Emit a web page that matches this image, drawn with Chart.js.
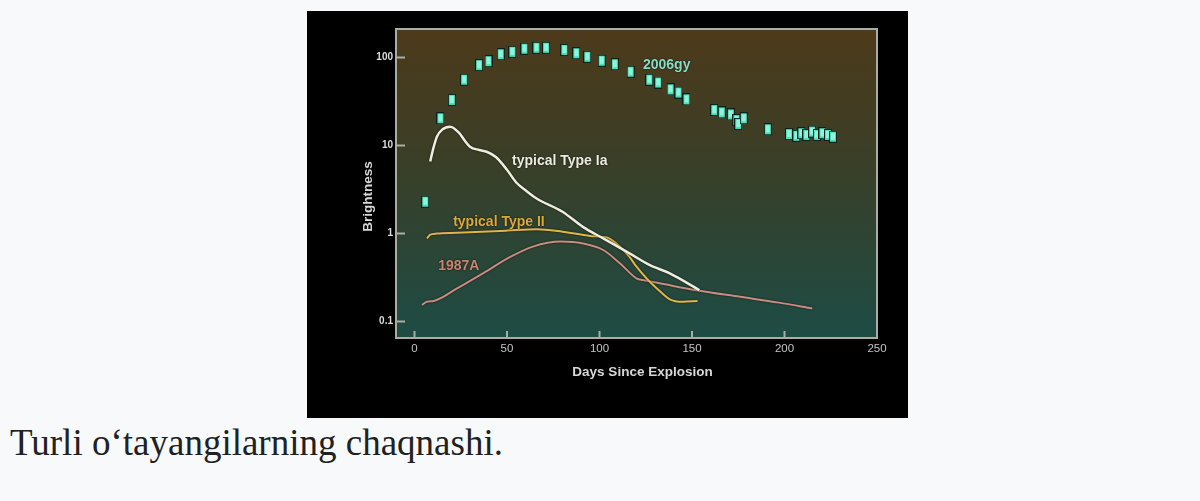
<!DOCTYPE html>
<html><head><meta charset="utf-8">
<script src="https://cdn.jsdelivr.net/npm/chart.js@4"></script>
<style>
html,body{margin:0;padding:0;background:#f8f9fa;width:1200px;height:501px;overflow:hidden;}
#frame{position:absolute;left:307px;top:11px;width:601px;height:407px;background:#000;}
#cv{display:block;}
#cap{position:absolute;left:10px;top:424px;font-family:"Liberation Serif","Times New Roman",serif;font-size:37px;line-height:1;color:#202122;white-space:nowrap;}
</style></head><body>
<div id="frame"><canvas id="cv" width="601" height="407"></canvas></div>
<div id="cap">Turli o‘tayangilarning chaqnashi.</div>
<script>
// ---- data (days since explosion, brightness) ----
const gyDays   = [5.8, 14.0, 20.2, 26.8, 34.9, 40.0, 46.6, 52.9, 59.4, 65.9, 71.1, 81.0, 87.5, 93.4, 101.2, 108.3, 116.8, 126.9, 131.7, 138.4, 142.7, 147.0, 162.0, 166.1, 171.0, 174.0, 175.0, 178.0, 191.0, 202.4, 206.4, 209.1, 211.8, 214.9, 217.5, 220.5, 223.5, 226.2];
const gyBright = [2.3, 20.4, 33, 56, 82, 91, 109, 116, 126, 129, 129, 122, 112, 102, 92, 84, 69, 56, 52, 43.5, 40, 33.5, 25.3, 23.8, 22.6, 19.5, 17.6, 20.4, 15.3, 13.5, 12.9, 13.8, 13.2, 14.4, 13.2, 13.8, 13.2, 12.6];

const iaDays   = [8.5, 10, 12.1, 15, 19.3, 24, 27, 30, 35, 39, 44, 50, 55, 60, 66, 80, 91, 102, 116, 127, 138, 154];
const iaBright = [6.6, 9.0, 12.6, 15.2, 16.4, 14, 11.5, 9.7, 8.9, 8.5, 7.4, 5.3, 3.8, 3.1, 2.5, 1.77, 1.19, 0.88, 0.6, 0.44, 0.353, 0.228];

const iiDays   = [6.7, 8.5, 12, 23, 50, 66, 80, 95, 104, 111, 116, 120, 126, 131, 138, 145, 153];
const iiBright = [0.88, 0.97, 1.0, 1.02, 1.08, 1.12, 1.05, 0.94, 0.9, 0.71, 0.55, 0.42, 0.3, 0.238, 0.179, 0.168, 0.171];

const snDays   = [4, 6.7, 10.3, 23, 37, 52, 64, 79, 91, 102, 111, 120, 123.4, 132.6, 154, 176, 197, 215];
const snBright = [0.154, 0.168, 0.171, 0.238, 0.353, 0.545, 0.71, 0.81, 0.77, 0.65, 0.46, 0.31, 0.296, 0.272, 0.224, 0.191, 0.164, 0.141];

const yTicks = [0.1, 1, 10, 100];
const xTicks = [0, 50, 100, 150, 200, 250];

const seriesLabels = ['2006gy', 'typical Type Ia', 'typical Type II', '1987A'];
const labelDays    = [123.5, 52.7, 20.9, 12.8];
const labelBright  = [82, 6.67, 1.35, 0.427];
const labelColors  = ['#86dcc6', '#ecebe2', '#dba83e', '#cc8470'];

const xTitle = 'Days Since Explosion';
const yTitle = 'Brightness';

// ---- helpers ----
const pts = (xs, ys) => xs.map((x, i) => ({x, y: ys[i]}));

function makeMarker(){
  const c = document.createElement('canvas'); c.width = 8; c.height = 12;
  const g = c.getContext('2d');
  g.fillStyle = '#0a241d'; g.fillRect(0,0,8,12);
  g.fillStyle = '#52dcbc'; g.fillRect(1,1,6,10);
  g.fillStyle = '#8ef4da'; g.fillRect(2,2,4,7);
  return c;
}

const decor = {
  id: 'decor',
  beforeDraw(chart){
    const {ctx, chartArea: a} = chart;
    const g = ctx.createLinearGradient(0, a.top, 0, a.bottom);
    g.addColorStop(0, '#4d3a1a');
    g.addColorStop(0.45, '#393f28');
    g.addColorStop(1, '#1d4c45');
    ctx.save();
    ctx.fillStyle = g;
    ctx.fillRect(a.left, a.top, a.right - a.left, a.bottom - a.top);
    ctx.restore();
  },
  beforeDatasetsDraw(chart){
    const {ctx, chartArea: a, scales} = chart;
    ctx.save();
    ctx.strokeStyle = '#a9ada4';
    ctx.lineWidth = 2;
    ctx.strokeRect(a.left, a.top, a.right - a.left, a.bottom - a.top);
    ctx.beginPath();
    yTicks.forEach(v => { const y = scales.y.getPixelForValue(v); ctx.moveTo(a.left, y); ctx.lineTo(a.left + 9, y); });
    xTicks.forEach(v => { const x = scales.x.getPixelForValue(v); ctx.moveTo(x, a.bottom); ctx.lineTo(x, a.bottom - 7); });
    ctx.stroke();
    ctx.restore();
  },
  beforeDatasetDraw(chart, args){
    const ctx = chart.ctx;
    ctx.save();
    if (args.index > 0) { ctx.shadowColor = 'rgba(0,0,0,0.75)'; ctx.shadowBlur = 2; }
  },
  afterDatasetDraw(chart){ chart.ctx.restore(); },
  afterDraw(chart){
    const {ctx, chartArea: a, scales} = chart;
    ctx.save();
    ctx.shadowColor = 'rgba(0,0,0,0.8)'; ctx.shadowBlur = 2;
    ctx.font = 'bold 14px "Liberation Sans", Arial, sans-serif';
    ctx.textBaseline = 'middle';
    seriesLabels.forEach((t, i) => {
      ctx.fillStyle = labelColors[i];
      ctx.textAlign = 'left';
      ctx.fillText(t, scales.x.getPixelForValue(labelDays[i]), scales.y.getPixelForValue(labelBright[i]));
    });
    ctx.shadowBlur = 0;
    ctx.fillStyle = '#d8d8d8';
    ctx.font = 'bold 13.5px "Liberation Sans", Arial, sans-serif';
    ctx.textAlign = 'center';
    ctx.fillText(xTitle, (a.left + a.right) / 2 + 6, a.bottom + 34);
    ctx.translate(a.left - 28, (a.top + a.bottom) / 2 + 13);
    ctx.rotate(-Math.PI / 2);
    ctx.fillText(yTitle, 0, 0);
    ctx.restore();
  }
};

new Chart(document.getElementById('cv'), {
  type: 'scatter',
  data: {
    datasets: [
      { label: '2006gy', data: pts(gyDays, gyBright), pointStyle: makeMarker(), pointRadius: 6, showLine: false },
      { label: 'typical Type Ia', data: pts(iaDays, iaBright), showLine: true, borderColor: '#efeede', borderWidth: 2.5, pointRadius: 0, cubicInterpolationMode: 'monotone' },
      { label: 'typical Type II', data: pts(iiDays, iiBright), showLine: true, borderColor: '#e2b54a', borderWidth: 2, pointRadius: 0, cubicInterpolationMode: 'monotone' },
      { label: '1987A', data: pts(snDays, snBright), showLine: true, borderColor: '#c88c80', borderWidth: 2, pointRadius: 0, cubicInterpolationMode: 'monotone' }
    ]
  },
  options: {
    responsive: false,
    animation: false,
    devicePixelRatio: 1,
    layout: { padding: { top: 18, right: 31, left: 0, bottom: 0 } },
    plugins: { legend: { display: false }, tooltip: { enabled: false } },
    scales: {
      x: {
        type: 'linear', min: -10, max: 250,
        grid: { display: false, drawTicks: false }, border: { display: false },
        afterBuildTicks: s => { s.ticks = xTicks.map(v => ({value: v})); },
        afterFit: s => { s.height = 80; },
        ticks: { color: '#c4c4c4', padding: 4, maxRotation: 0, autoSkip: false,
                 font: { family: '"Liberation Sans", Arial, sans-serif', size: 11.5 } }
      },
      y: {
        type: 'logarithmic', min: 0.065, max: 211,
        grid: { display: false, drawTicks: false }, border: { display: false },
        afterBuildTicks: s => { s.ticks = yTicks.map(v => ({value: v})); },
        afterFit: s => { s.width = 89; },
        ticks: { color: '#dcdcdc', padding: 3, autoSkip: false,
                 callback: v => String(v),
                 font: { family: '"Liberation Sans", Arial, sans-serif', size: 10, weight: 'bold' } }
      }
    }
  },
  plugins: [decor]
});
</script>
</body></html>
